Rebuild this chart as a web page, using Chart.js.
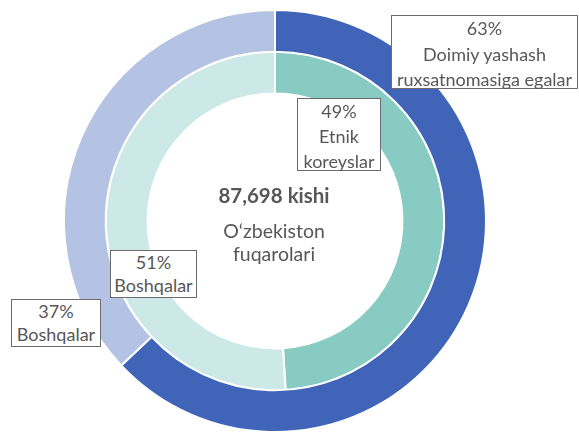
<!DOCTYPE html>
<html>
<head>
<meta charset="utf-8">
<script src="https://cdn.jsdelivr.net/npm/chart.js@4.4.1/dist/chart.umd.min.js"></script>
<style>
  html, body { margin: 0; padding: 0; background: #fff; }
  #wrap { position: relative; width: 579px; height: 436px; overflow: hidden; font-family: Lato, "Open Sans", sans-serif; color: #575757; }
  canvas { position: absolute; left: 0; top: 0; }
  .lbl { position: absolute; background: #fff; border: 1.5px solid #6b6b6b; text-align: center; font-size: 18px; line-height: 25px; box-sizing: border-box; white-space: nowrap; }
  .center { position: absolute; text-align: center; width: 200px; left: 174px; }
</style>
</head>
<body>
<div id="wrap">
  <canvas id="donut" width="579" height="436"></canvas>
  <div class="center" style="top:182px;font-weight:bold;font-size:20.5px;line-height:26px;">87,698 kishi</div>
  <div class="center" style="top:219px;font-size:19.5px;line-height:23px;">O‘zbekiston<br>fuqarolari</div>
  <div class="lbl" id="l0" style="left:391px;top:15px;width:187px;height:74px;line-height:25.5px;"></div>
  <div class="lbl" id="l1" style="left:297px;top:98px;width:84px;height:73px;"></div>
  <div class="lbl" id="l2" style="left:110px;top:250px;width:87px;height:48px;line-height:23px;"></div>
  <div class="lbl" id="l3" style="left:11px;top:299px;width:90px;height:48px;line-height:23px;"></div>
</div>
<script>
// outer ring: residence status, inner ring: ethnicity
const outerLabels = ['Doimiy yashash ruxsatnomasiga egalar', 'Boshqalar'];
const outerValues = [63, 37];
const innerLabels = ['Etnik koreyslar', 'Boshqalar'];
const innerValues = [49, 51];
const outerColors = ['#4065b8', '#b4c3e4'];
const innerColors = ['#87cbc3', '#cde9e7'];

// label text boxes
document.getElementById('l0').innerHTML = outerValues[0] + '%<br>Doimiy yashash<br>ruxsatnomasiga egalar';
document.getElementById('l1').innerHTML = innerValues[0] + '%<br>Etnik<br>koreyslar';
document.getElementById('l2').innerHTML = innerValues[1] + '%<br>' + innerLabels[1];
document.getElementById('l3').innerHTML = outerValues[1] + '%<br>' + outerLabels[1];

const ctx = document.getElementById('donut').getContext('2d');
new Chart(ctx, {
  type: 'doughnut',
  data: {
    labels: outerLabels,
    datasets: [
      {
        data: outerValues,
        backgroundColor: outerColors,
        borderColor: '#fff',
        borderWidth: 2,
      },
      {
        data: innerValues,
        backgroundColor: innerColors,
        borderColor: '#fff',
        borderWidth: 2,
      },
    ],
  },
  options: {
    responsive: false,
    animation: false,
    cutout: '60.4%',
    layout: { padding: { left: 63, right: 92, top: 9, bottom: 3 } },
    plugins: {
      legend: { display: false },
      tooltip: { enabled: false },
    },
  },
});
</script>
</body>
</html>
